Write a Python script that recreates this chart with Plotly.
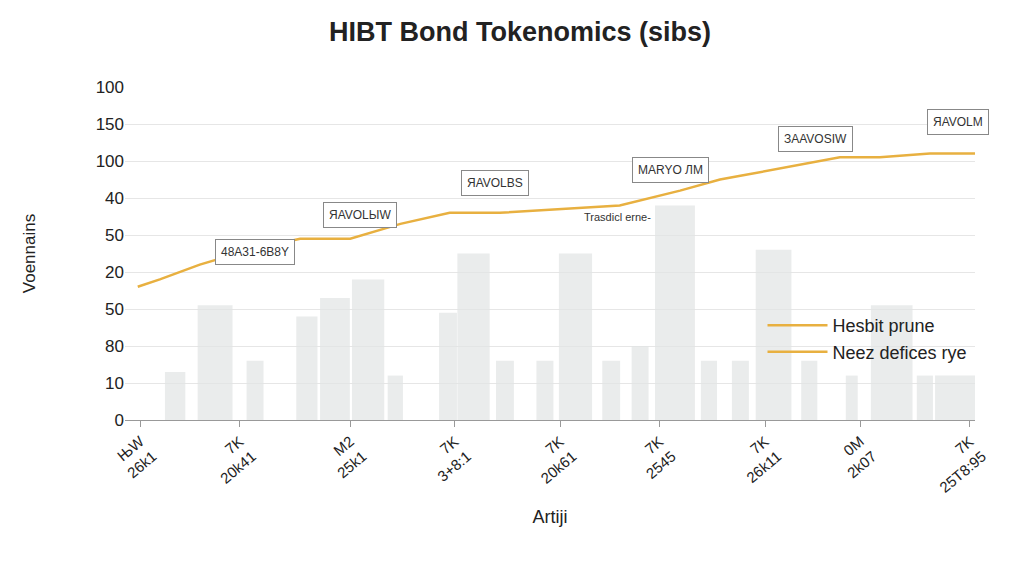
import plotly.graph_objects as go

y_ticks = [0,1,2,3,4,5,6,7,8,9]
y_labels = ["0","10","80","50","20","50","40","100","150","100"]
x_tick_pos = [1.8,13.5,26.5,38.8,51.2,62.9,75.3,86.5,99.4]
x_tick_labels = ["ЊW<br>26k1","7K<br>20k41","M2<br>25k1","7K<br>3+8:1","7K<br>20k61","7K<br>2545","7K<br>26k11","0M<br>2k07","7K<br>25T8:95"]

bar_x = [5.9,10.6,15.3,21.4,24.7,28.6,31.8,38.0,41.0,44.7,49.4,53.0,57.2,60.6,64.7,68.7,72.4,76.3,80.5,85.5,90.2,94.1,100.0]
bar_w = [2.4,4.1,2.0,2.5,3.5,3.8,1.8,2.1,3.8,2.1,2.0,3.9,2.1,2.0,4.7,1.9,2.0,4.2,1.9,1.4,4.9,1.9,9.4]
bar_h = [1.3,3.1,1.6,2.8,3.3,3.8,1.2,2.9,4.5,1.6,1.6,4.5,1.6,2.0,5.8,1.6,1.6,4.6,1.6,1.2,3.1,1.2,1.2]

line_x = [1.5,4.1,8.8,14.7,20.6,26.5,32.4,38.2,44.1,51.2,58.2,65.3,70.0,72.4,79.4,84.1,88.8,94.7,100.0]
line_y = [3.6,3.8,4.2,4.6,4.9,4.9,5.3,5.6,5.6,5.7,5.8,6.2,6.5,6.6,6.9,7.1,7.1,7.2,7.2]

fig = go.Figure()
fig.add_trace(go.Bar(x=bar_x, y=bar_h, width=bar_w, showlegend=False,
    marker=dict(color="rgba(225,228,228,0.7)", line=dict(width=0))))
fig.add_trace(go.Scatter(x=line_x, y=line_y, mode="lines", name="Hesbit prune",
    line=dict(color="#E8B040", width=2.5)))
fig.add_trace(go.Scatter(x=[None], y=[None], mode="lines", name="Neez defices rye",
    line=dict(color="#E8B040", width=2.5)))

boxes = [(15.3,4.55,"48A31-6B8Y"),(27.6,5.55,"ЯAVOLЫW"),(43.5,6.4,"ЯAVOLBS"),(64.2,6.75,"MARYO ЛM"),(81.2,7.6,"ЗAAVOSIW"),(98.0,8.05,"ЯAVOLM")]
for x, y, t in boxes:
    fig.add_annotation(x=x, y=y, text=t, showarrow=False, bgcolor="white",
        bordercolor="#888", borderwidth=1, borderpad=5, font=dict(size=12, color="#333"))
fig.add_annotation(x=57.9, y=5.5, text="Trasdicl erne-", showarrow=False, font=dict(size=11, color="#333"))

fig.update_layout(
    width=1024, height=576, paper_bgcolor="white", plot_bgcolor="white",
    margin=dict(l=117, r=57, t=79, b=164),
    title=dict(text="<b>HIBT Bond Tokenomics (sibs)</b>", x=0.5, y=0.975, xanchor="center",
               font=dict(size=27, color="#222", family="Liberation Sans")),
    font=dict(family="Liberation Sans", color="#222"),
    barmode="overlay",
    xaxis=dict(range=[0,100], tickmode="array", tickvals=x_tick_pos, ticktext=x_tick_labels,
               tickangle=-40, tickfont=dict(size=15), showgrid=False, ticks="outside",
               ticklen=6, tickcolor="#999", showline=True, linecolor="#999", automargin=False,
               title=dict(text="Artiji", font=dict(size=18), standoff=15), zeroline=False),
    yaxis=dict(range=[0,9], tickmode="array", tickvals=y_ticks, ticktext=y_labels,
               tickfont=dict(size=17), gridcolor="#e6e6e6", zeroline=False, automargin=False,
               title=dict(text="Voennains", font=dict(size=17), standoff=55)),
    legend=dict(x=0.75, y=0.15, bgcolor="rgba(255,255,255,0)", font=dict(size=18),
                tracegroupgap=10, itemwidth=60),
)
fig.write_html("out.html")
